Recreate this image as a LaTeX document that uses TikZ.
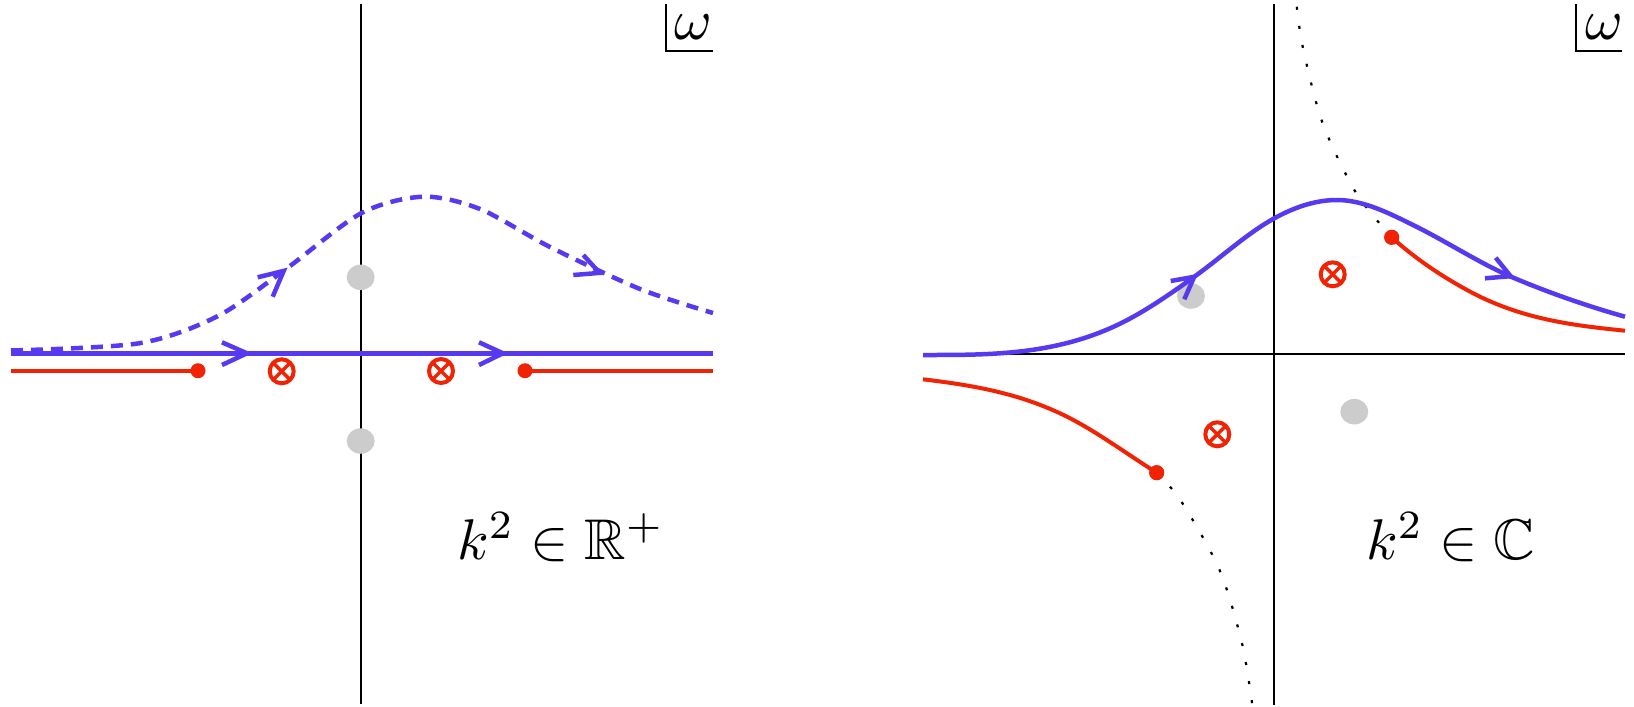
\documentclass[tikz,border=0pt]{standalone}
\usepackage{amssymb}
\usetikzlibrary{shapes.geometric}
\definecolor{cblue}{RGB}{87,57,240}
\definecolor{cred}{RGB}{240,35,5}
\definecolor{cgray}{RGB}{204,204,204}
\begin{document}
\begin{tikzpicture}[x=1pt,y=-1pt,
  axisline/.style={line width=2pt,black},
  bluepath/.style={line width=4.5pt,cblue},
  redpath/.style={line width=4pt,cred},
  dashpath/.style={bluepath,dash pattern=on 12pt off 8pt},
  dotpath/.style={line width=2.2pt,black,dash pattern=on 3pt off 16.3pt},
  arrowhd/.style={line width=4.5pt,cblue,line join=miter,line cap=butt},
  enddot/.style={circle,fill=cred,inner sep=0,minimum size=15pt},
  graydot/.style={ellipse,fill=cgray,inner sep=0,minimum width=28pt,minimum height=25.5pt},
  otimesmark/.style={circle,draw=cred,line width=4pt,inner sep=0,minimum size=24pt,
     path picture={\draw[cred,line width=3.5pt]
       (path picture bounding box.south west)--(path picture bounding box.north east)
       (path picture bounding box.north west)--(path picture bounding box.south east);}},
  lbl/.style={inner sep=0,scale=5.74},
]
\useasboundingbox (0,0) rectangle (1634,707);

% ---------------- left panel ----------------
\coordinate (LaxT) at (361,4);
\coordinate (LaxB) at (361,704);
\draw[axisline] (LaxT) -- (LaxB);
\coordinate (Lw1) at (666,4);
\coordinate (Lw2) at (666,51);
\coordinate (Lw3) at (713,51);
\draw[axisline] (Lw1) -- (Lw2) -- (Lw3);
\node[lbl,anchor=base] (Lomega) at (693.5,39.5) {$\omega$};

\node[graydot] (Lg1) at (360.7,277.3) {};
\node[graydot] (Lg2) at (360.7,441) {};

\coordinate (LbS) at (11,353.3);
\coordinate (LbE) at (713,353.3);
\draw[bluepath] (LbS) -- (LbE);

\draw[dashpath] plot[smooth] coordinates {(11,350.5) (139,343.3) (217,316.5)
  (284,270.5) (361,213.3) (423,196.7) (480,209) (550,247) (640,289) (713,313)};

\draw[arrowhd] (222,342.3) -- (247,353.3) -- (222,365);
\draw[arrowhd] (479,342.3) -- (503,353.3) -- (479,365);
\draw[arrowhd] (257.7,277.3) -- (283.7,270.9) -- (272.7,296.7);
\draw[arrowhd] (573.3,275) -- (599.6,272.9) -- (583.3,255);

\node[enddot] (Lr1) at (198,370.7) {};
\node[enddot] (Lr2) at (525,370.7) {};
\coordinate (LrS) at (11,370.7);
\coordinate (LrE) at (713,370.7);
\draw[redpath] (LrS) -- (Lr1.center);
\draw[redpath] (Lr2.center) -- (LrE);

\node[otimesmark] (Lx1) at (281.7,371.3) {};
\node[otimesmark] (Lx2) at (441,371) {};

\node[lbl,anchor=base west] (Ltext) at (456,559) {$k^2\in\mathbb{R}^+$};

% ---------------- right panel ----------------
\coordinate (RaxT) at (1274.3,4);
\coordinate (RaxB) at (1274.3,705);
\coordinate (RaxL) at (923,354);
\coordinate (RaxR) at (1625,354);
\draw[axisline] (RaxT) -- (RaxB);
\draw[axisline] (RaxL) -- (RaxR);
\coordinate (Rw1) at (1576,4);
\coordinate (Rw2) at (1576,51);
\coordinate (Rw3) at (1622,51);
\draw[axisline] (Rw1) -- (Rw2) -- (Rw3);
\node[lbl,anchor=base] (Romega) at (1604.7,39.5) {$\omega$};

\node[graydot] (Rg1) at (1191,296) {};
\node[graydot] (Rg2) at (1354.3,411.7) {};

\node[enddot] (Rr1) at (1391.7,237.3) {};
\node[enddot] (Rr2) at (1156.7,472.7) {};

\draw[dotpath] plot[smooth] coordinates {(1391.7,237.3) (1355.7,192.3)
  (1322.3,122.3) (1302.7,46.7) (1296.5,4)};
\draw[dotpath] plot[smooth] coordinates {(1156.7,472.7) (1181,501)
  (1219.3,569.3) (1242,643.3) (1252.3,705)};

\draw[redpath] (Rr1.center) .. controls (1416.8,259.9) and (1441.9,276.2) .. (1467,290)
  .. controls (1519.7,319) and (1572.3,325.4) .. (1625,330.7);
\draw[redpath] (923,379.3) .. controls (971,385.1) and (1019,392.7) .. (1067,416.7)
  .. controls (1096.9,431.7) and (1126.8,453.9) .. (Rr2.center);

\draw[bluepath] (923,355) .. controls (986.3,355) and (1049.7,355.5) .. (1113,327)
  .. controls (1140.1,314.8) and (1167.1,296.3) .. (1194.2,276.8)
  .. controls (1220.9,257.6) and (1247.6,233) .. (1274.3,218.3)
  .. controls (1295.2,206.8) and (1316.1,200) .. (1337,200)
  .. controls (1363.7,200) and (1390.3,213.7) .. (1417,227)
  .. controls (1449.3,243.2) and (1481.7,264.4) .. (1514,278)
  .. controls (1551,293.5) and (1588,306.3) .. (1625,316.7);

\draw[arrowhd] (1170.7,281) -- (1194.2,276.8) -- (1184.3,299.3);
\draw[arrowhd] (1485,278.3) -- (1510.6,276.2) -- (1495.7,257.7);

\fill[cred] (Rr1) circle (7.5pt);
\fill[cred] (Rr2) circle (7.5pt);

\node[otimesmark] (Rx1) at (1332.7,274.3) {};
\node[otimesmark] (Rx2) at (1217.3,434.3) {};

\node[lbl,anchor=base west] (Rtext) at (1365,559) {$k^2\in\mathbb{C}$};
\end{tikzpicture}
\end{document}
